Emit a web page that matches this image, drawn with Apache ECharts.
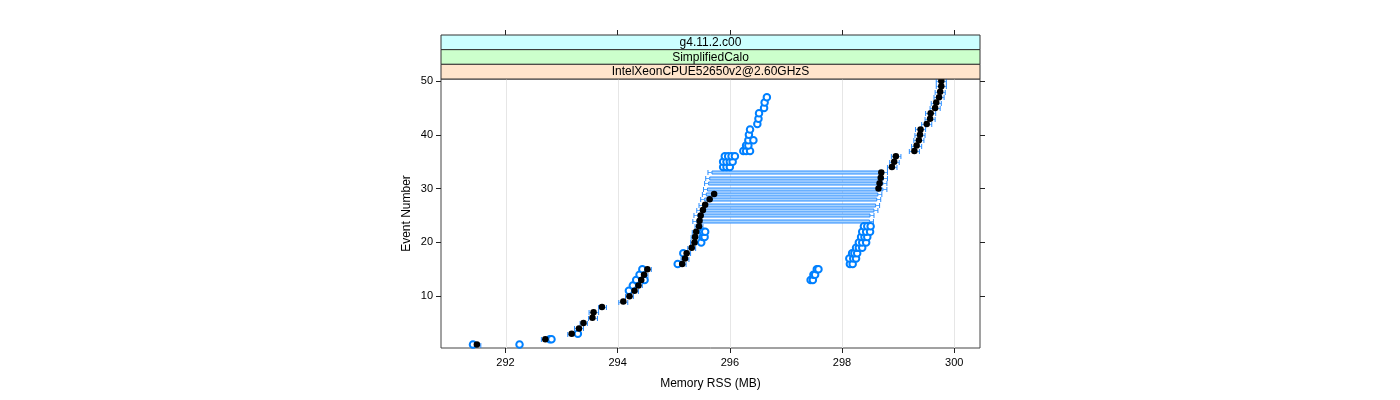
<!DOCTYPE html>
<html><head><meta charset="utf-8">
<script src="https://cdn.jsdelivr.net/npm/echarts@6/dist/echarts.min.js"></script>
<style>html,body{margin:0;padding:0;background:#fff}#c{width:1400px;height:400px}</style>
</head><body><div id="c"></div><script>
// ---- data ----
const events = [1,2,3,4,5,6,7,8,9,10,11,12,13,14,15,16,17,18,19,20,21,22,23,24,25,26,27,28,29,30,31,32,33,34,35,36,37,38,39,40,41,42,43,44,45,46,47,48,49,50];
const meanRSS = [291.49,292.71,293.18,293.31,293.39,293.55,293.57,293.72,294.10,294.21,
                 294.30,294.37,294.42,294.47,294.53,295.15,295.20,295.23,295.32,295.37,
                 295.38,295.40,295.45,295.46,295.48,295.52,295.56,295.64,295.72,298.65,
                 298.67,298.69,298.70,298.89,298.93,298.96,299.29,299.33,299.37,299.39,
                 299.40,299.51,299.57,299.58,299.66,299.68,299.73,299.75,299.77,299.77];
const errLow  = [291.42,292.64,293.11,293.23,293.33,293.48,293.49,293.66,294.02,294.14,
                 294.23,294.30,294.35,294.40,294.46,295.08,295.13,295.16,295.25,295.30,
                 295.31,295.33,295.38,295.34,295.36,295.41,295.45,295.48,295.51,295.53,
                 295.55,295.57,295.61,298.81,298.85,298.88,299.20,299.24,299.28,299.30,
                 299.31,299.42,299.48,299.49,299.57,299.59,299.64,299.66,299.68,299.68];
const errHigh = [291.56,292.78,293.25,293.39,293.46,293.64,293.66,293.80,294.18,294.28,
                 294.37,294.44,294.49,294.54,294.60,295.22,295.27,295.30,295.39,295.44,
                 295.45,295.47,295.52,298.56,298.57,298.64,298.67,298.69,298.71,298.80,
                 298.80,298.81,298.81,298.98,299.02,299.05,299.38,299.42,299.46,299.48,
                 299.49,299.60,299.66,299.67,299.75,299.77,299.82,299.84,299.86,299.86];
// individual runs: [Memory RSS, event]
const runRSS = [291.42,292.25,292.79,292.82,293.29,294.20,294.27,294.33,294.48,294.39,294.44,
                297.44,297.48,297.49,297.52,297.55,297.58,
                295.07,298.14,298.19,298.13,298.20,298.25,295.17,298.18,298.22,298.27,
                298.25,298.30,298.36,295.49,298.30,298.36,298.43,
                295.52,295.55,298.34,298.40,298.45,295.52,295.56,298.36,298.43,298.50,
                298.39,298.45,298.51,
                295.88,295.94,296.00,295.88,295.94,296.00,296.05,295.91,295.97,296.03,296.09,
                296.24,296.29,296.36,296.29,296.33,296.33,296.42,296.34,296.36,296.49,296.51,
                296.52,296.61,296.62,296.66];
const runEvent = [1,1,2,2,3,11,12,13,13,14,15,
                  13,13,14,14,15,15,
                  16,16,16,17,17,17,18,18,18,18,
                  19,19,19,20,20,20,20,
                  21,21,21,21,21,22,22,22,22,22,
                  23,23,23,
                  34,34,34,35,35,35,35,36,36,36,36,
                  37,37,37,38,38,39,39,40,41,42,43,
                  44,45,46,47];
const xTicks = [292,294,296,298,300];
const yTicks = [10,20,30,40,50];
const stripLabels = ['g4.11.2.c00','SimplifiedCalo','IntelXeonCPUE52650v2@2.60GHzS'];
const stripColors = ['#ccffff','#ccffcc','#ffe5cc'];

// ---- chart ----
const FONT = '"Liberation Sans", Arial, Helvetica, sans-serif';
const XMIN = 290.85, XMAX = 300.46, YMIN = 0.37, YMAX = 50.37;
const G = {left:441, top:79, width:539, height:269};

const chart = echarts.init(document.getElementById('c'), null, {renderer:'canvas'});
const stripH = 44/3;
const graphics = [];
stripLabels.forEach((t,i)=>{
  const y = 35 + i*stripH;
  graphics.push({type:'rect', shape:{x:G.left, y:y, width:G.width, height:stripH},
    style:{fill:stripColors[i], stroke:'#333', lineWidth:1}, z:10});
  graphics.push({type:'text', x:G.left+G.width/2, y:y+stripH/2+0.5,
    style:{text:t, font:'12px '+FONT, fill:'#000', align:'center', verticalAlign:'middle'}, z:11});
});

const errData = events.map((e,i)=>[errLow[i], errHigh[i], e]);
const runData = runRSS.map((v,i)=>[v, runEvent[i]]);
const meanData = events.map((e,i)=>[meanRSS[i], e]);

chart.setOption({
  animation:false,
  textStyle:{fontFamily:FONT},
  graphic: graphics,
  grid:{left:G.left, top:G.top, width:G.width, height:G.height, show:true, borderColor:'#444', borderWidth:1, backgroundColor:'transparent'},
  xAxis:[{
    type:'value', min:XMIN, max:XMAX, position:'bottom',
    name:'Memory RSS (MB)', nameLocation:'middle', nameGap:30,
    nameTextStyle:{fontSize:12, color:'#000', fontFamily:FONT},
    axisLine:{show:false}, splitLine:{show:false},
    axisTick:{show:true, customValues:xTicks, length:5, inside:false, lineStyle:{color:'#222'}},
    axisLabel:{customValues:xTicks, fontSize:11, color:'#000', margin:9, fontFamily:FONT}
  },{
    type:'value', min:XMIN, max:XMAX, position:'top', offset:44,
    axisLine:{show:false}, splitLine:{show:false},
    axisTick:{show:true, customValues:xTicks, length:5, inside:false, lineStyle:{color:'#222'}},
    axisLabel:{show:false}
  }],
  yAxis:[{
    type:'value', min:YMIN, max:YMAX, position:'left',
    name:'Event Number', nameLocation:'middle', nameGap:28, nameRotate:90,
    nameTextStyle:{fontSize:12, color:'#000', fontFamily:FONT},
    axisLine:{show:false}, splitLine:{show:false},
    axisTick:{show:true, customValues:yTicks, length:5, inside:false, lineStyle:{color:'#222'}},
    axisLabel:{customValues:yTicks, fontSize:11, color:'#000', margin:8, fontFamily:FONT}
  },{
    type:'value', min:YMIN, max:YMAX, position:'right',
    axisLine:{show:false}, splitLine:{show:false},
    axisTick:{show:true, customValues:yTicks, length:5, inside:false, lineStyle:{color:'#222'}},
    axisLabel:{show:false}
  }],
  series:[
    { // vertical reference grid lines
      type:'custom', silent:true, z:1, data:xTicks.map(v=>[v]),
      encode:{x:0},
      renderItem(params, api){
        const a = api.coord([api.value(0), YMIN]);
        const b = api.coord([api.value(0), YMAX]);
        const x = Math.round(a[0]) + 0.5;
        return {type:'line', shape:{x1:x, y1:a[1], x2:x, y2:b[1]}, style:{stroke:'#e6e6e6', lineWidth:1}};
      }
    },
    { // error bars
      type:'custom', silent:true, z:2, data:errData,
      encode:{x:[0,1], y:2},
      renderItem(params, api){
        const lo = api.value(0), hi = api.value(1), e = api.value(2);
        const p0 = api.coord([lo, e]), p1 = api.coord([hi, e]);
        const y = Math.round(p0[1]) + 0.5;
        const children = [];
        if (hi - lo > 1) {
          children.push({type:'rect', shape:{x:p0[0]+4, y:y-1.5, width:p1[0]-p0[0]-8, height:3},
            style:{fill:'#a8d4ff', stroke:'#2a8cff', lineWidth:1}});
          children.push({type:'line', shape:{x1:p0[0], y1:y, x2:p0[0]+4, y2:y}, style:{stroke:'#5aabff', lineWidth:1}});
          children.push({type:'line', shape:{x1:p1[0]-4, y1:y, x2:p1[0], y2:y}, style:{stroke:'#5aabff', lineWidth:1}});
        } else {
          children.push({type:'line', shape:{x1:p0[0], y1:y, x2:p1[0], y2:y}, style:{stroke:'#5aabff', lineWidth:1.2}});
        }
        children.push({type:'line', shape:{x1:p0[0], y1:y-2.5, x2:p0[0], y2:y+2.5}, style:{stroke:'#2a8cff', lineWidth:1}});
        children.push({type:'line', shape:{x1:p1[0], y1:y-2.5, x2:p1[0], y2:y+2.5}, style:{stroke:'#2a8cff', lineWidth:1}});
        return {type:'group', children};
      }
    },
    { // individual runs
      type:'scatter', z:3, data:runData, symbol:'emptyCircle', symbolSize:6.5,
      itemStyle:{color:'#0080ff', borderColor:'#0080ff', borderWidth:1, opacity:1}, silent:true
    },
    { // mean
      type:'scatter', z:4, data:meanData, symbol:'circle', symbolSize:6.5,
      itemStyle:{color:'#000', opacity:1}, silent:true
    }
  ]
});
</script></body></html>
